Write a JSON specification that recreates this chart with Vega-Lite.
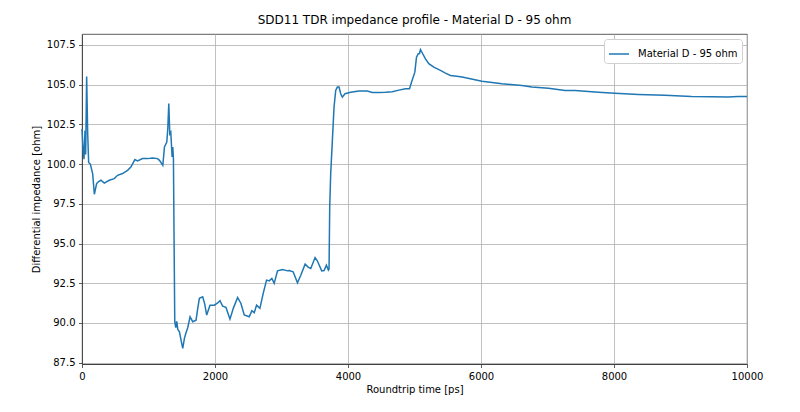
{
  "$schema": "https://vega.github.io/schema/vega-lite/v6.json",
  "description": "SDD11 TDR impedance profile, Material D - 95 ohm.",
  "width": 665,
  "height": 330,
  "autosize": {"type": "none"},
  "padding": {"left": 82, "top": 34, "right": 53, "bottom": 48},
  "background": "white",
  "title": {
    "text": "SDD11 TDR impedance profile - Material D - 95 ohm",
    "font": "DejaVu Sans",
    "fontSize": 12,
    "fontWeight": "normal",
    "color": "#000000",
    "offset": 7
  },
  "data": {
    "values": [
      {"time": 0, "z": 102.2}, {"time": 15, "z": 101.0}, {"time": 30, "z": 100.3},
      {"time": 45, "z": 102.1}, {"time": 55, "z": 100.6}, {"time": 70, "z": 105.5},
      {"time": 85, "z": 102.0}, {"time": 100, "z": 100.1}, {"time": 125, "z": 100.0},
      {"time": 160, "z": 99.4}, {"time": 186, "z": 98.1}, {"time": 220, "z": 98.77},
      {"time": 250, "z": 98.9}, {"time": 285, "z": 98.98}, {"time": 335, "z": 98.8},
      {"time": 410, "z": 98.98}, {"time": 485, "z": 99.08}, {"time": 535, "z": 99.29},
      {"time": 610, "z": 99.4}, {"time": 685, "z": 99.6}, {"time": 735, "z": 99.81},
      {"time": 795, "z": 100.28}, {"time": 835, "z": 100.19}, {"time": 910, "z": 100.34},
      {"time": 985, "z": 100.34}, {"time": 1060, "z": 100.38}, {"time": 1135, "z": 100.34},
      {"time": 1165, "z": 100.23}, {"time": 1215, "z": 99.92}, {"time": 1240, "z": 101.07},
      {"time": 1275, "z": 101.38}, {"time": 1290, "z": 102.2}, {"time": 1305, "z": 103.8},
      {"time": 1320, "z": 101.9}, {"time": 1335, "z": 102.0}, {"time": 1355, "z": 100.44},
      {"time": 1365, "z": 101.07}, {"time": 1375, "z": 100.3}, {"time": 1385, "z": 95.0},
      {"time": 1395, "z": 90.1}, {"time": 1410, "z": 89.7}, {"time": 1425, "z": 90.1},
      {"time": 1440, "z": 89.6}, {"time": 1465, "z": 89.45}, {"time": 1490, "z": 88.9},
      {"time": 1515, "z": 88.4}, {"time": 1540, "z": 89.03}, {"time": 1565, "z": 89.4},
      {"time": 1590, "z": 89.7}, {"time": 1625, "z": 90.39}, {"time": 1665, "z": 90.08},
      {"time": 1715, "z": 90.18}, {"time": 1740, "z": 90.9}, {"time": 1765, "z": 91.55},
      {"time": 1815, "z": 91.65}, {"time": 1845, "z": 91.2}, {"time": 1875, "z": 90.5},
      {"time": 1925, "z": 91.12}, {"time": 1990, "z": 91.12}, {"time": 2040, "z": 91.27},
      {"time": 2075, "z": 91.4}, {"time": 2115, "z": 91.06}, {"time": 2165, "z": 90.98},
      {"time": 2225, "z": 90.24}, {"time": 2275, "z": 90.92}, {"time": 2340, "z": 91.61},
      {"time": 2390, "z": 91.23}, {"time": 2440, "z": 90.5}, {"time": 2515, "z": 90.39},
      {"time": 2555, "z": 90.77}, {"time": 2590, "z": 90.65}, {"time": 2625, "z": 91.12},
      {"time": 2675, "z": 90.92}, {"time": 2725, "z": 91.86}, {"time": 2775, "z": 92.7},
      {"time": 2815, "z": 92.65}, {"time": 2855, "z": 92.8}, {"time": 2890, "z": 92.49},
      {"time": 2940, "z": 93.28}, {"time": 3015, "z": 93.37}, {"time": 3090, "z": 93.28},
      {"time": 3115, "z": 93.3}, {"time": 3175, "z": 93.22}, {"time": 3240, "z": 92.53},
      {"time": 3290, "z": 93.0}, {"time": 3355, "z": 93.7}, {"time": 3405, "z": 93.5},
      {"time": 3440, "z": 93.43}, {"time": 3505, "z": 94.12}, {"time": 3540, "z": 93.9},
      {"time": 3605, "z": 93.28}, {"time": 3640, "z": 93.3}, {"time": 3675, "z": 93.64},
      {"time": 3705, "z": 93.33}, {"time": 3715, "z": 93.4}, {"time": 3725, "z": 97.3},
      {"time": 3740, "z": 99.4}, {"time": 3765, "z": 101.49}, {"time": 3790, "z": 103.58},
      {"time": 3815, "z": 104.63}, {"time": 3840, "z": 104.84}, {"time": 3865, "z": 104.84},
      {"time": 3890, "z": 104.42}, {"time": 3915, "z": 104.21}, {"time": 3955, "z": 104.42},
      {"time": 4040, "z": 104.52}, {"time": 4165, "z": 104.59}, {"time": 4290, "z": 104.59},
      {"time": 4365, "z": 104.5}, {"time": 4465, "z": 104.5}, {"time": 4565, "z": 104.52},
      {"time": 4665, "z": 104.55}, {"time": 4765, "z": 104.65}, {"time": 4865, "z": 104.74},
      {"time": 4925, "z": 104.74}, {"time": 4955, "z": 105.15}, {"time": 5005, "z": 105.78},
      {"time": 5030, "z": 106.72}, {"time": 5055, "z": 106.93}, {"time": 5075, "z": 106.95},
      {"time": 5090, "z": 107.2}, {"time": 5115, "z": 107.0}, {"time": 5165, "z": 106.62},
      {"time": 5215, "z": 106.31}, {"time": 5290, "z": 106.09}, {"time": 5390, "z": 105.89},
      {"time": 5465, "z": 105.72}, {"time": 5540, "z": 105.57}, {"time": 5665, "z": 105.51},
      {"time": 5715, "z": 105.47}, {"time": 6015, "z": 105.21}, {"time": 6315, "z": 105.05},
      {"time": 6615, "z": 104.94}, {"time": 6765, "z": 104.85}, {"time": 7015, "z": 104.77},
      {"time": 7265, "z": 104.63}, {"time": 7415, "z": 104.63}, {"time": 7765, "z": 104.52},
      {"time": 8015, "z": 104.46}, {"time": 8365, "z": 104.38}, {"time": 8765, "z": 104.32},
      {"time": 9165, "z": 104.25}, {"time": 9465, "z": 104.23}, {"time": 9715, "z": 104.21},
      {"time": 9865, "z": 104.25}, {"time": 10000, "z": 104.25}
    ]
  },
  "mark": {"type": "line", "strokeWidth": 1.5},
  "encoding": {
    "x": {
      "field": "time",
      "type": "quantitative",
      "scale": {"domain": [0, 10000], "nice": false, "zero": false},
      "axis": {
        "title": "Roundtrip time [ps]",
        "values": [0, 2000, 4000, 6000, 8000, 10000],
        "format": "d",
        "labelFlush": false,
        "titlePadding": 3
      }
    },
    "y": {
      "field": "z",
      "type": "quantitative",
      "scale": {"domain": [87.42, 108.18], "nice": false, "zero": false},
      "axis": {
        "title": "Differential impedance [ohm]",
        "values": [87.5, 90, 92.5, 95, 97.5, 100, 102.5, 105, 107.5],
        "format": ".1f",
        "labelFlush": false,
        "titlePadding": 5
      }
    },
    "color": {
      "datum": "Material D - 95 ohm",
      "scale": {"range": ["#1f77b4"]},
      "legend": {
        "title": null,
        "orient": "top-right",
        "offset": 5,
        "padding": 4,
        "symbolType": "stroke",
        "symbolSize": 400,
        "symbolStrokeWidth": 1.5,
        "labelOffset": 8,
        "labelFont": "DejaVu Sans",
        "labelFontSize": 10,
        "labelColor": "#000000",
        "fillColor": "white",
        "strokeColor": "#d0d0d0",
        "cornerRadius": 3
      }
    }
  },
  "config": {
    "view": {"stroke": "#333333", "strokeWidth": 0.8},
    "axis": {
      "labelFont": "DejaVu Sans",
      "labelFontSize": 10,
      "labelColor": "#000000",
      "titleFont": "DejaVu Sans",
      "titleFontSize": 10,
      "titleFontWeight": "normal",
      "titleColor": "#000000",
      "grid": true,
      "gridColor": "#b0b0b0",
      "gridWidth": 0.8,
      "domainColor": "#333333",
      "domainWidth": 0.8,
      "tickColor": "#333333",
      "tickWidth": 0.8,
      "tickSize": 3.5,
      "labelPadding": 3.5
    }
  }
}
